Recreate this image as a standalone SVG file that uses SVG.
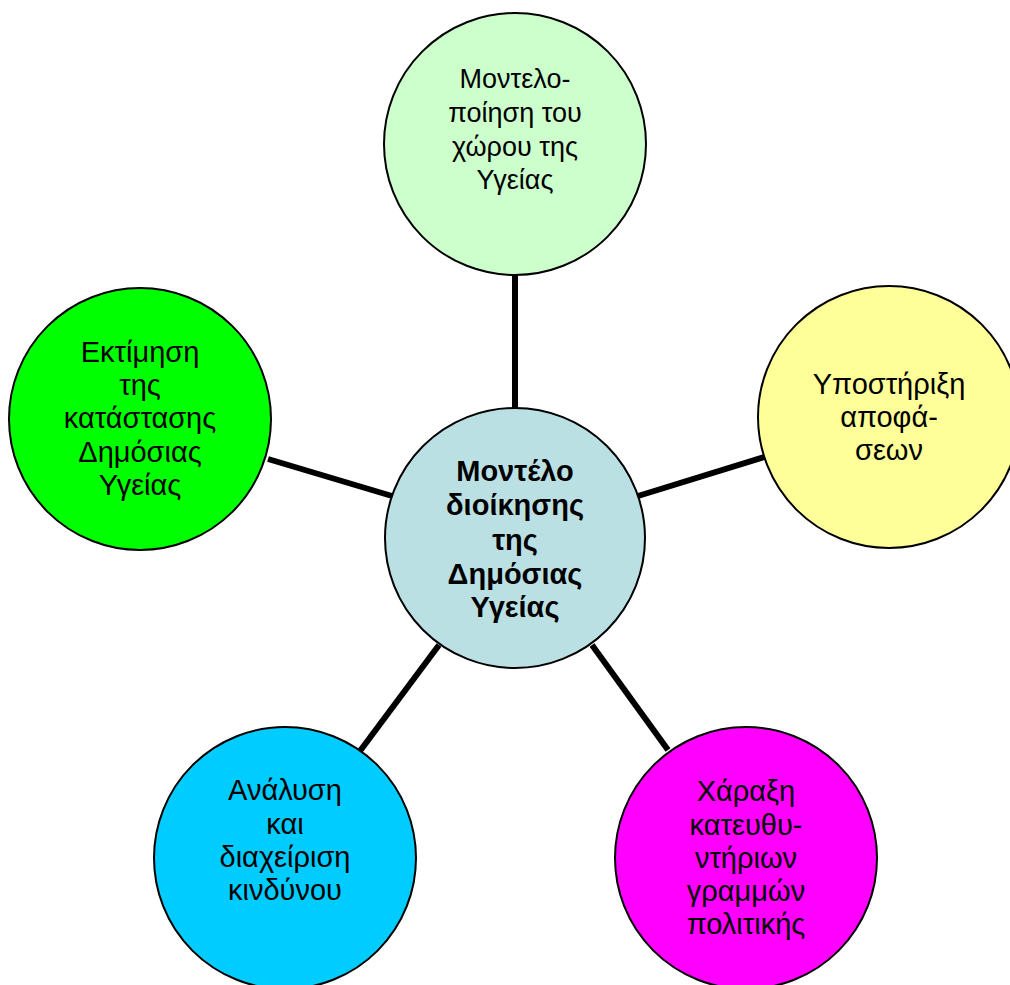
<svg xmlns="http://www.w3.org/2000/svg" width="1010" height="985" viewBox="0 0 1010 985">
  <style>
    .node circle { stroke: #000; stroke-width: 2; }
    .node text { font-family: "Liberation Sans", Arial, sans-serif; font-size: 29px; fill: #000; text-anchor: middle; }
    .node.narrow text { font-size: 27px; }
    .hub text { font-weight: bold; }
    .links line { stroke: #000; stroke-width: 6; }
  </style>
  <rect width="1010" height="985" fill="#fff"/>

  <g class="links">
    <line x1="515" y1="275" x2="515" y2="410"/>
    <line x1="268" y1="459" x2="392" y2="496"/>
    <line x1="638" y1="496" x2="764" y2="457"/>
    <line x1="439" y1="645" x2="360" y2="751"/>
    <line x1="592" y1="645" x2="668" y2="750"/>
  </g>

  <g id="node-modelling" class="node narrow">
    <circle cx="515" cy="144" r="131" fill="#CCFFCC"/>
    <text x="515" y="88">Μοντελο-</text>
    <text x="515" y="122">ποίηση του</text>
    <text x="515" y="156">χώρου της</text>
    <text x="515" y="189">Υγείας</text>
  </g>

  <g id="node-assessment" class="node">
    <circle cx="140" cy="419" r="131" fill="#00FF00"/>
    <text x="140" y="362">Εκτίμηση</text>
    <text x="140" y="395">της</text>
    <text x="140" y="428">κατάστασης</text>
    <text x="140" y="462">Δημόσιας</text>
    <text x="140" y="495">Υγείας</text>
  </g>

  <g id="node-decision" class="node">
    <circle cx="889" cy="417" r="131" fill="#FFFF99"/>
    <text x="889" y="394">Υποστήριξη</text>
    <text x="889" y="427">αποφά-</text>
    <text x="889" y="460">σεων</text>
  </g>

  <g id="node-hub" class="node hub">
    <circle cx="515" cy="538" r="130" fill="#BBE0E3"/>
    <text x="515" y="481">Μοντέλο</text>
    <text x="515" y="515">διοίκησης</text>
    <text x="515" y="550">της</text>
    <text x="515" y="584">Δημόσιας</text>
    <text x="515" y="617">Υγείας</text>
  </g>

  <g id="node-risk" class="node">
    <circle cx="285" cy="858" r="131" fill="#00CCFF"/>
    <text x="285" y="800">Ανάλυση</text>
    <text x="285" y="834">και</text>
    <text x="285" y="867">διαχείριση</text>
    <text x="285" y="900">κινδύνου</text>
  </g>

  <g id="node-policy" class="node">
    <circle cx="746" cy="858" r="131" fill="#FF00FF"/>
    <text x="746" y="801">Χάραξη</text>
    <text x="746" y="835">κατευθυ-</text>
    <text x="746" y="868">ντήριων</text>
    <text x="746" y="901">γραμμών</text>
    <text x="746" y="934">πολιτικής</text>
  </g>
</svg>
